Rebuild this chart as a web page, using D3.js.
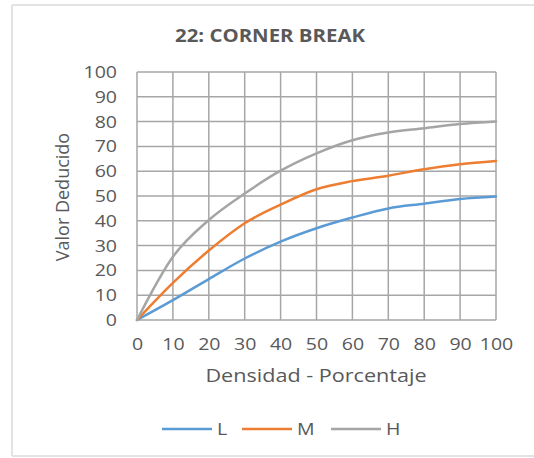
<!DOCTYPE html>
<html lang="es">
<head>
<meta charset="UTF-8">
<title>22: Corner Break</title>
<script src="https://d3js.org/d3.v7.min.js"></script>
<style>
    * { margin: 0; padding: 0; }
    body { background: #fff; }
    text { font-family: "Open Sans", sans-serif; fill: #595959; }
</style>
</head>
<body>
<script>
    // valores
    var densidad = [0, 10, 20, 30, 40, 50, 60, 70, 80, 90, 100];
    var serieL = [0, 8, 16.5, 24.8, 31.6, 37, 41.3, 45, 46.9, 48.8, 49.8];
    var serieM = [0, 15, 28, 39, 46.5, 52.7, 56, 58.2, 60.8, 62.8, 64.1];
    var serieH = [0, 25.5, 40.3, 51, 60.2, 67.2, 72.5, 75.6, 77.3, 79, 80];
    var yTicks = [0, 10, 20, 30, 40, 50, 60, 70, 80, 90, 100];
    var series = [
        { name: "L", values: serieL, color: "#5b9bd5" },
        { name: "M", values: serieM, color: "#ed7d31" },
        { name: "H", values: serieH, color: "#a5a5a5" }
    ];

    var W = 534, H = 458;
    var pLeft = 137, pRight = 496, pTop = 72, pBottom = 320;
    var stretch = 1.15; // el original esta algo ensanchado

    var svg = d3.select("body").append("svg")
        .attr("width", W)
        .attr("height", H);

    // marco exterior
    var frame = svg.append("g").attr("stroke", "#e3e3e3").attr("stroke-width", 2);
    frame.append("line").attr("x1", 12).attr("y1", 5).attr("x2", W).attr("y2", 5);
    frame.append("line").attr("x1", 12).attr("y1", 5).attr("x2", 12).attr("y2", 456);
    frame.append("line").attr("x1", 12).attr("y1", 456).attr("x2", W).attr("y2", 456);

    var x = d3.scaleLinear().domain([0, 100]).range([pLeft, pRight]);
    var y = d3.scaleLinear().domain([0, 100]).range([pBottom, pTop]);

    // rejilla
    var grid = svg.append("g").attr("stroke", "#a6a6a6").attr("stroke-width", 1.5);
    grid.selectAll(".gx")
        .data(densidad)
        .enter()
        .append("line")
        .attr("x1", function (d) { return x(d); })
        .attr("x2", function (d) { return x(d); })
        .attr("y1", pTop)
        .attr("y2", pBottom);
    grid.selectAll(".gy")
        .data(yTicks)
        .enter()
        .append("line")
        .attr("x1", pLeft)
        .attr("x2", pRight)
        .attr("y1", function (d) { return y(d); })
        .attr("y2", function (d) { return y(d); });

    // ejes (solo etiquetas)
    var xAxis = svg.append("g")
        .attr("transform", "translate(0," + (pBottom + 18) + ")")
        .call(d3.axisBottom(x).tickValues(densidad).tickSize(0).tickPadding(0));
    var yAxis = svg.append("g")
        .attr("transform", "translate(" + (pLeft - 20) + ",0)")
        .call(d3.axisLeft(y).tickValues(yTicks).tickSize(0).tickPadding(0));
    [xAxis, yAxis].forEach(function (a) {
        a.select(".domain").remove();
        a.selectAll("text")
            .attr("font-family", "'Open Sans', sans-serif")
            .attr("font-size", "17px")
            .attr("fill", "#595959")
            .attr("transform", "scale(" + stretch + ",1)");
    });

    // lineas de datos
    var line = d3.line()
        .x(function (d, i) { return x(densidad[i]); })
        .y(function (d) { return y(d); })
        .curve(d3.curveMonotoneX);

    svg.selectAll(".serie")
        .data(series)
        .enter()
        .append("path")
        .attr("fill", "none")
        .attr("stroke", function (d) { return d.color; })
        .attr("stroke-width", 2.5)
        .attr("stroke-linecap", "round")
        .attr("d", function (d) { return line(d.values); });

    // titulos
    svg.append("text")
        .attr("transform", "translate(270,42) scale(1.2,1)")
        .attr("text-anchor", "middle")
        .attr("font-size", "17px")
        .attr("font-weight", "bold")
        .text("22: CORNER BREAK");

    svg.append("text")
        .attr("transform", "translate(316,382) scale(1.2,1)")
        .attr("text-anchor", "middle")
        .attr("font-size", "18px")
        .text("Densidad - Porcentaje");

    svg.append("text")
        .attr("transform", "translate(69,197) rotate(-90)")
        .attr("text-anchor", "middle")
        .attr("font-size", "18px")
        .text("Valor Deducido");

    // leyenda
    var legX = [162, 242, 331];
    var leg = svg.selectAll(".leg")
        .data(series)
        .enter()
        .append("g")
        .attr("transform", function (d, i) { return "translate(" + legX[i] + ",429)"; });
    leg.append("line")
        .attr("x1", 0).attr("x2", 50)
        .attr("stroke", function (d) { return d.color; })
        .attr("stroke-width", 2.5);
    leg.append("text")
        .attr("transform", "translate(55,6) scale(" + stretch + ",1)")
        .attr("font-size", "17px")
        .text(function (d) { return d.name; });
</script>
</body>
</html>
